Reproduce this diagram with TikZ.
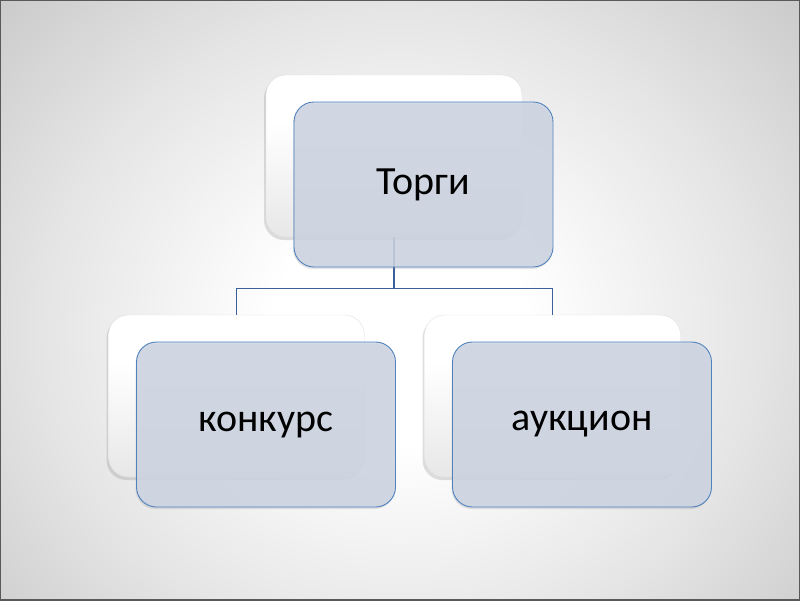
\documentclass[tikz,border=0pt]{standalone}
\usepackage{fontspec}
\setmainfont{Carlito}
\usetikzlibrary{shadows}
\definecolor{frontfill}{HTML}{CDD5E3}
\definecolor{frontline}{HTML}{4F81BD}
\definecolor{connline}{HTML}{3A5F9A}
\pgfdeclareradialshading{bgshade}{\pgfpoint{0bp}{0bp}}{%
  color(0bp)=(white); color(8bp)=(white); color(22bp)=(black!10);
  color(38bp)=(black!24); color(50bp)=(black!33); color(72bp)=(black!43)}
\pgfdeclareverticalshading{backshade}{100bp}{%
  color(0bp)=(black!16); color(30bp)=(black!8); color(60bp)=(white); color(100bp)=(white)}
\tikzset{
  backbox/.style={rounded corners=20pt, shading=backshade, draw=black!12, line width=0.4pt,
    minimum width=256pt, minimum height=162pt,
    drop shadow={shadow xshift=-2pt, shadow yshift=-3pt, opacity=0.25}},
  frontbox/.style={rounded corners=20pt, fill=frontfill, fill opacity=0.85, text opacity=1,
    draw=frontline, line width=0.9pt, minimum width=259pt, minimum height=165pt,
    font=\fontsize{40}{44}\selectfont, text=black,
    drop shadow={shadow xshift=-1pt, shadow yshift=-2pt, opacity=0.2}},
  conn/.style={draw=connline, line width=1.3pt}
}
\begin{document}
\begin{tikzpicture}[x=1pt,y=-1pt]
\useasboundingbox (0,0) rectangle (800,600);
\shade[shading=bgshade] (0,-30) rectangle (800,690);
\draw[black!65, line width=2pt] (0,0) rectangle (800,600);
% back boxes
\node[backbox] (tb) at (394,156) {};
\node[backbox] (lb) at (236.5,396) {};
\node[backbox] (rb) at (552.5,396) {};
% connectors
\draw[conn] (tb.south) -- ++(0,51) coordinate (mid) -| (lb.north);
\draw[conn] (mid) -| (rb.north);
% front boxes
\node[frontbox] (tf) at (423.5,184.5) {\raisebox{-3pt}{Торги}};
\node[frontbox] (lf) at (266,424.5) {\raisebox{-3pt}{конкурс}};
\node[frontbox] (rf) at (582,424.5) {\raisebox{-3pt}{аукцион}};
\end{tikzpicture}
\end{document}
